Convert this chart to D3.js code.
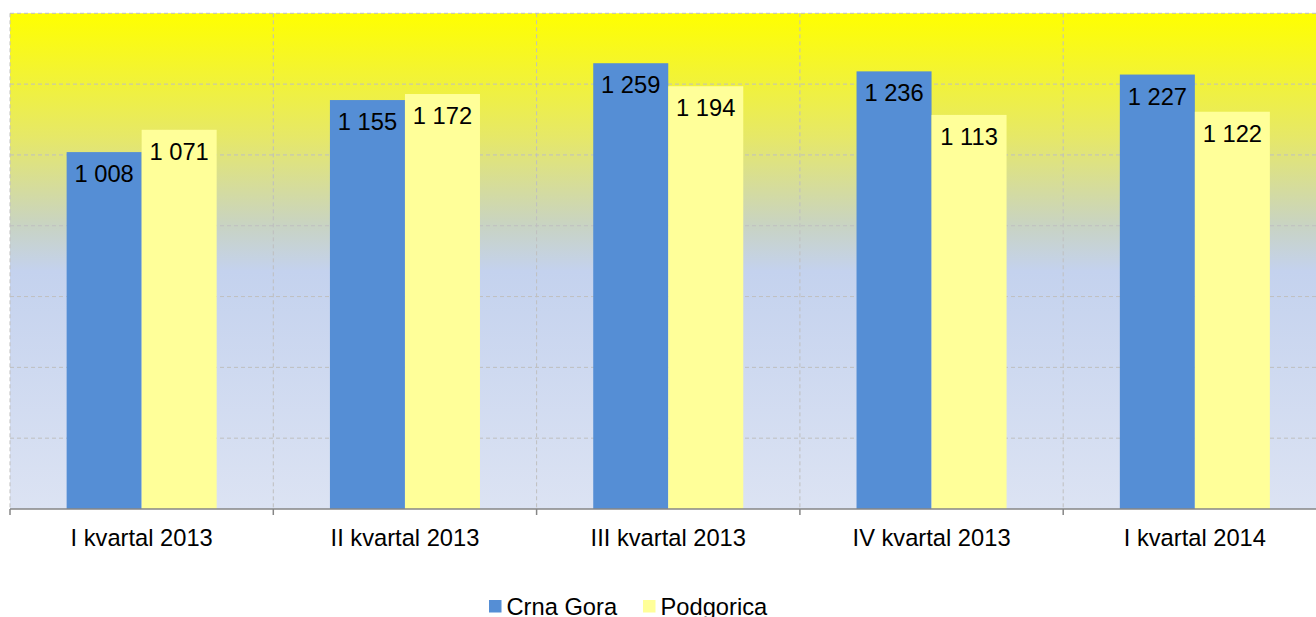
<!DOCTYPE html>
<html>
<head>
<meta charset="utf-8">
<script src="https://cdn.jsdelivr.net/npm/d3@7"></script>
<style>
  body { margin: 0; background: #ffffff; }
  svg { display: block; font-family: "Liberation Sans", Arial, sans-serif; }
</style>
</head>
<body>
<svg id="chart" width="1316" height="617"></svg>
<script>
// Chart data
let categories = ["I kvartal 2013", "II kvartal 2013", "III kvartal 2013", "IV kvartal 2013", "I kvartal 2014"];
let series_names = ["Crna Gora", "Podgorica"];
let crna_gora_values = [1008, 1155, 1259, 1236, 1227];
let podgorica_values = [1071, 1172, 1194, 1113, 1122];
let y_ticks = [0, 200, 400, 600, 800, 1000, 1200, 1400];

let series_colors = {"Crna Gora": "#558ed5", "Podgorica": "#ffff99"};

function format_value(v) {
  // thousands separated by a space
  return d3.format(",")(v).replace(/,/g, " ");
}

function draw_chart() {
  let svg = d3.select("#chart");

  let plot_left = 10;
  let plot_top = 13.3;
  let plot_bottom = 509;
  let band_width = 263.3;
  let plot_right = plot_left + band_width * categories.length;
  let font_size = "23.7px";

  let x = d3.scaleBand()
    .domain(categories)
    .range([plot_left, plot_right])
    .padding(0);

  let x_inner = d3.scaleBand()
    .domain(series_names)
    .range([0, x.bandwidth()])
    .paddingInner(0)
    .paddingOuter(0.755);

  let y = d3.scaleLinear()
    .domain([0, 1400])
    .range([plot_bottom, plot_top]);

  // Background gradient of the plot area
  let defs = svg.append("defs");
  let grad = defs.append("linearGradient")
    .attr("id", "plot-bg")
    .attr("x1", 0).attr("y1", 0)
    .attr("x2", 0).attr("y2", 1);
  grad.append("stop").attr("offset", "0%").attr("stop-color", "#ffff00");
  grad.append("stop").attr("offset", "25%").attr("stop-color", "#e6e868");
  grad.append("stop").attr("offset", "43%").attr("stop-color", "#c8d3c4");
  grad.append("stop").attr("offset", "52%").attr("stop-color", "#c4d2ee");
  grad.append("stop").attr("offset", "100%").attr("stop-color", "#dce3f3");

  svg.append("rect")
    .attr("x", plot_left)
    .attr("y", plot_top)
    .attr("width", plot_right - plot_left)
    .attr("height", plot_bottom - plot_top)
    .attr("fill", "url(#plot-bg)");

  // Horizontal gridlines
  svg.append("g")
    .selectAll("line")
    .data(y_ticks.filter((t) => t > 0))
    .join("line")
    .attr("x1", plot_left)
    .attr("x2", plot_right)
    .attr("y1", (d) => y(d))
    .attr("y2", (d) => y(d))
    .attr("stroke", "#bfbfbf")
    .attr("stroke-width", 1)
    .attr("stroke-dasharray", "4,3");

  // Vertical gridlines at category boundaries
  let boundaries = categories.map((c) => x(c)).concat([plot_right]);
  svg.append("g")
    .selectAll("line")
    .data(boundaries)
    .join("line")
    .attr("x1", (d) => d)
    .attr("x2", (d) => d)
    .attr("y1", plot_top)
    .attr("y2", plot_bottom)
    .attr("stroke", "#bfbfbf")
    .attr("stroke-width", 1)
    .attr("stroke-dasharray", "4,3");

  // Bars
  let rows = categories.map((c, i) => {
    return {
      category: c,
      values: [
        {name: "Crna Gora", value: crna_gora_values[i]},
        {name: "Podgorica", value: podgorica_values[i]},
      ],
    };
  });

  let groups = svg.append("g")
    .selectAll("g")
    .data(rows)
    .join("g")
    .attr("transform", (d) => `translate(${x(d.category)},0)`);

  groups.selectAll("rect")
    .data((d) => d.values)
    .join("rect")
    .attr("x", (d) => x_inner(d.name))
    .attr("y", (d) => y(d.value))
    .attr("width", x_inner.bandwidth())
    .attr("height", (d) => y(0) - y(d.value))
    .attr("fill", (d) => series_colors[d.name]);

  // Data labels, inside end
  groups.selectAll("text")
    .data((d) => d.values)
    .join("text")
    .attr("x", (d) => x_inner(d.name) + x_inner.bandwidth() / 2)
    .attr("y", (d) => y(d.value) + 30)
    .attr("text-anchor", "middle")
    .attr("font-size", font_size)
    .attr("fill", "#000000")
    .text((d) => format_value(d.value));

  // X axis
  let x_axis = d3.axisBottom(x).tickSize(0).tickPadding(0);
  let axis_g = svg.append("g")
    .attr("transform", `translate(0,${plot_bottom})`)
    .call(x_axis);
  axis_g.select(".domain").remove();
  axis_g.selectAll("text")
    .attr("y", 37)
    .attr("dy", null)
    .attr("font-size", font_size)
    .attr("font-family", "Liberation Sans, Arial, sans-serif")
    .attr("fill", "#000000");

  svg.append("line")
    .attr("x1", plot_left)
    .attr("x2", plot_right)
    .attr("y1", plot_bottom)
    .attr("y2", plot_bottom)
    .attr("stroke", "#868686")
    .attr("stroke-width", 1.5);

  svg.append("g")
    .selectAll("line")
    .data(boundaries)
    .join("line")
    .attr("x1", (d) => d)
    .attr("x2", (d) => d)
    .attr("y1", plot_bottom)
    .attr("y2", plot_bottom + 6)
    .attr("stroke", "#868686")
    .attr("stroke-width", 1.5);

  // Legend
  let legend_items = [
    {name: "Crna Gora", x: 489},
    {name: "Podgorica", x: 643},
  ];
  let legend = svg.append("g")
    .selectAll("g")
    .data(legend_items)
    .join("g")
    .attr("transform", (d) => `translate(${d.x},600)`);
  legend.append("rect")
    .attr("width", 12.5)
    .attr("height", 12.5)
    .attr("fill", (d) => series_colors[d.name]);
  legend.append("text")
    .attr("x", 17.5)
    .attr("y", 15)
    .attr("font-size", font_size)
    .attr("fill", "#000000")
    .text((d) => d.name);
}

draw_chart();
</script>
</body>
</html>
